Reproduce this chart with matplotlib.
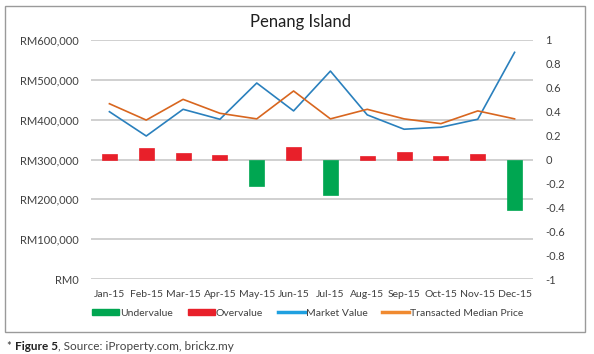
import numpy as np
import matplotlib.pyplot as plt
from matplotlib.patches import Rectangle, Patch
from matplotlib.lines import Line2D

months = ["Jan-15", "Feb-15", "Mar-15", "Apr-15", "May-15", "Jun-15",
          "Jul-15", "Aug-15", "Sep-15", "Oct-15", "Nov-15", "Dec-15"]
market_value = [420000, 359000, 426000, 401000, 492000, 422000,
                522000, 412000, 376000, 381000, 401000, 569000]
transacted_median = [440000, 399000, 451000, 416000, 402000, 472000,
                     402000, 426000, 402000, 390000, 422000, 402000]
value_gap = [0.044, 0.099, 0.057, 0.035, -0.22, 0.107,
             -0.30, 0.032, 0.065, 0.027, 0.046, -0.42]
left_ticks = [0, 100000, 200000, 300000, 400000, 500000, 600000]
right_ticks = [-1, -0.8, -0.6, -0.4, -0.2, 0, 0.2, 0.4, 0.6, 0.8, 1]
right_labels = ["-1", "-0.8", "-0.6", "-0.4", "-0.2", "0", "0.2", "0.4", "0.6", "0.8", "1"]

GREEN = "#00a651"
RED = "#e8202a"
BLUE = "#2a80bd"
ORANGE = "#d8661f"
TXT = "#404040"

plt.rcParams['font.family'] = ['Lato', 'DejaVu Sans']

fig = plt.figure(figsize=(5.94, 3.54), dpi=100)
ax = fig.add_axes([91/594, 1-279/354, (533-91)/594, (279-40)/354])
ax2 = ax.twinx()

x = np.arange(len(months))

# left axis: prices
ax.set_ylim(0, 600000)
ax.set_xlim(-0.5, len(months) - 0.5)
ax.set_yticks(left_ticks)
ax.set_yticklabels([f"RM{v:,}" for v in left_ticks])
ax.grid(axis='y', color='#c4c4c4', linewidth=1.1)
ax.set_axisbelow(True)
ax.plot(x, market_value, color=BLUE, linewidth=1.2, zorder=3)
ax.plot(x, transacted_median, color=ORANGE, linewidth=1.2, zorder=3)
ax.set_xticks(x)
ax.set_xticklabels(months)

# right axis: over / under value
ax2.set_ylim(-1, 1)
ax2.set_yticks(right_ticks)
ax2.set_yticklabels(right_labels)
cols = [GREEN if v < 0 else RED for v in value_gap]
ax2.bar(x, value_gap, width=0.41, color=cols, edgecolor=cols, linewidth=0.5)

for a in (ax, ax2):
    for s in a.spines.values():
        s.set_visible(False)
    a.tick_params(length=0, labelsize=8, colors=TXT)
ax.tick_params(axis='y', pad=9)
ax.tick_params(axis='x', pad=8, labelsize=7.5)
ax2.tick_params(axis='y', pad=9)

fig.text(300/594, 1-22/354, "Penang Island", ha='center', va='center',
         fontsize=12, color='#202020')

handles = [Patch(color=GREEN), Patch(color=RED),
           Line2D([], [], color="#1fa0e0", linewidth=2.5),
           Line2D([], [], color="#f08a30", linewidth=2.5)]
fig.legend(handles, ["Undervalue", "Overvalue", "Market Value", "Transacted Median Price"],
           loc='center', bbox_to_anchor=(308/594, 1-313/354), ncol=4, frameon=False,
           fontsize=7.5, handlelength=2.6, handleheight=0.6, handletextpad=0.1,
           columnspacing=1.4, labelcolor=TXT)

# chart border
fig.patches.append(Rectangle((5/594, 1-332/354), 580/594, 326/354, transform=fig.transFigure,
                             fill=False, edgecolor='#9a9a9a', linewidth=1.0))

# caption
t1 = fig.text(7/594, 1-346/354, "* ", fontsize=8, color='#333333', va='center')
t2 = ax.annotate("Figure 5", xy=(1, 0.5), xycoords=t1, va='center', ha='left',
                 fontsize=8.5, fontweight='bold', color='#222222', annotation_clip=False)
ax.annotate(", Source: iProperty.com, brickz.my", xy=(1, 0.5), xycoords=t2, va='center',
            ha='left', fontsize=8.5, color='#444444', annotation_clip=False)

fig.savefig("out.png", dpi=100)
